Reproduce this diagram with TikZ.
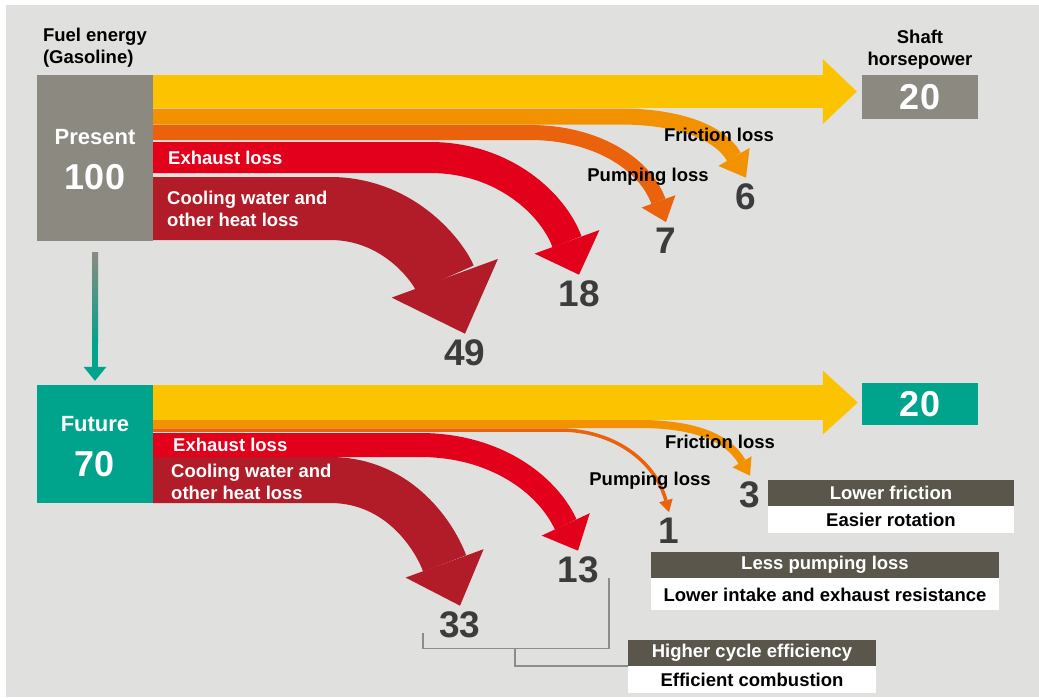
\documentclass[tikz,border=0pt]{standalone}
\usepackage{fontspec}
\setmainfont{Liberation Sans}
\usetikzlibrary{arrows.meta, positioning}

\definecolor{bggray}{RGB}{224,224,222}
\definecolor{boxgray}{RGB}{140,138,128}
\definecolor{tealc}{RGB}{0,163,139}
\definecolor{fuelyellow}{RGB}{252,196,0}
\definecolor{fricorange}{RGB}{243,146,0}
\definecolor{pumporange}{RGB}{234,98,12}
\definecolor{exhred}{RGB}{226,0,26}
\definecolor{coolred}{RGB}{178,28,40}
\definecolor{hdrdark}{RGB}{90,86,76}
\definecolor{numgray}{RGB}{60,60,60}
\definecolor{linegray}{RGB}{140,140,140}

\tikzset{
  band/.style={line width=#1, line cap=butt},
  bandhead/.style 2 args={arrows={-{Triangle[width=#1,length=#2,line width=0pt]}}},
  srcbox/.style={inner sep=0pt, minimum width=116pt},
  boxtxt/.style={text=white, font=\fontsize{22}{22}\selectfont\bfseries, inner sep=0pt},
  bignum/.style={text=white, font=\fontsize{36}{36}\selectfont\bfseries, inner sep=0pt},
  num/.style={text=numgray, font=\fontsize{37}{37}\selectfont\bfseries, inner sep=0pt},
  lbl/.style={font=\fontsize{18.5}{22}\selectfont\bfseries, inner sep=0pt, align=left},
  wlbl/.style={lbl, text=white},
  hdr/.style={fill=hdrdark, text=white, font=\fontsize{18.5}{22}\selectfont\bfseries, minimum height=26pt, inner sep=0pt},
  sub/.style={fill=white, text=black, font=\fontsize{18.5}{22}\selectfont\bfseries, minimum height=27pt, inner sep=0pt},
  bracket/.style={draw=linegray, line width=1.5pt},
}

\begin{document}
\begin{tikzpicture}[x=1pt, y=1pt]
  \useasboundingbox (0,0) rectangle (1039,-697);
  \fill[white] (0,0) rectangle (1039,-697);
  \fill[bggray] (6,-5) rectangle (1039,-697);

  % Source and output boxes
  \node[srcbox, fill=boxgray, minimum height=166pt] (present) at (95,-158) {};
  \node[boxtxt] at ([yshift=21pt]present.center) {Present};
  \node[bignum] at ([yshift=-19pt]present.center) {100};
  \node[lbl, anchor=south west] (fuel) at ([xshift=6pt,yshift=7pt]present.north west) {Fuel energy\\(Gasoline)};

  \node[srcbox, fill=tealc, minimum height=118pt] (future) at (95,-444) {};
  \node[boxtxt] at ([yshift=20pt]future.center) {Future};
  \node[bignum] at ([yshift=-20pt]future.center) {70};

  \node[srcbox, bignum, fill=boxgray, minimum height=44pt] (shaft20) at (920,-97) {20};
  \node[lbl, align=center, above=5pt of shaft20] (shaft) {Shaft\\horsepower};
  \node[srcbox, bignum, fill=tealc, minimum height=42pt] (future20) at (920,-404) {20};

  % Loss numbers
  \node[num] (n49) at (465,-353) {49};
  \node[num] (n18) at (579,-294) {18};
  \node[num] (n7)  at (666,-241) {7};
  \node[num] (n6)  at (746,-197) {6};
  \node[num] (n33) at (460,-625) {33};
  \node[num] (n13) at (578,-570) {13};
  \node[num] (n1)  at (669,-531) {1};
  \node[num] (n3)  at (750,-495) {3};

  % Band starts
  \coordinate (p-out)  at (153,-91.5);
  \coordinate (p-fric) at (153,-116.5);
  \coordinate (p-pump) at (153,-132.5);
  \coordinate (p-exh)  at (153,-157.5);
  \coordinate (p-cool) at (153,-208.5);
  \coordinate (f-out)  at (153,-402.5);
  \coordinate (f-fric) at (153,-424);
  \coordinate (f-pump) at (153,-430);
  \coordinate (f-exh)  at (153,-445);
  \coordinate (f-cool) at (153,-480);

  % Present flows
  \draw[band=63pt, coolred, bandhead={113pt}{59pt}] (p-cool) -- ++(177,0) to[out=0, in=110] ([yshift=6pt]n49.north);
  \draw[band=31pt, exhred, bandhead={69pt}{35pt}] (p-exh) -- ++(277,0) to[out=0, in=110] ([yshift=6pt]n18.north);
  \draw[band=15pt, pumporange, bandhead={36pt}{22pt}] (p-pump) -- ++(377,0) to[out=0, in=110] ([yshift=6pt]n7.north);
  \draw[band=16pt, fricorange, bandhead={36pt}{24pt}] (p-fric) -- ++(467,0) to[out=0, in=120] ([yshift=6pt]n6.north);
  \draw[band=33pt, fuelyellow, bandhead={65pt}{34pt}, shorten >=5pt] (p-out) -- (p-out -| shaft20.west);

  % Future flows
  \draw[band=46pt, coolred, bandhead={83pt}{45pt}] (f-cool) -- ++(177,0) to[out=0, in=110] ([yshift=6pt]n33.north);
  \draw[band=24pt, exhred, bandhead={53pt}{29pt}] (f-exh) -- ++(267,0) to[out=0, in=115] ([yshift=6pt]n13.north);
  \draw[band=3.5pt, pumporange, bandhead={14pt}{12pt}] (f-pump) -- ++(407,0) to[out=0, in=105] ([yshift=6pt]n1.north);
  \draw[band=8pt, fricorange, bandhead={22pt}{16pt}] (f-fric) -- ++(487,0) to[out=0, in=120] ([yshift=6pt]n3.north);
  \draw[band=35pt, fuelyellow, bandhead={64pt}{35pt}, shorten >=4pt] (f-out) -- (f-out -| future20.west);

  % Present to future
  \draw[tealc, line width=6pt, shorten <=11pt, shorten >=4pt, -{Triangle[width=23pt,length=14pt,line width=0pt]}] (present.south) -- (future.north);
  \shade[top color=boxgray, bottom color=tealc] ([xshift=-3pt,yshift=-11pt]present.south) rectangle ([xshift=3pt,yshift=42pt]future.north);

  % Band labels
  \node[wlbl, anchor=west] at (168,-158) {Exhaust loss};
  \node[wlbl, anchor=west] at (167,-208.5) {Cooling water and\\other heat loss};
  \node[lbl] at (719,-135) {Friction loss};
  \node[lbl] at (648,-177) {Pumping loss};
  \node[wlbl, anchor=west] at (173,-445) {Exhaust loss};
  \node[wlbl, anchor=west] at (171,-481.5) {Cooling water and\\other heat loss};
  \node[lbl] at (720,-442) {Friction loss};
  \node[lbl] at (650,-481) {Pumping loss};

  % Improvement boxes
  \node[hdr, minimum width=246pt] (lowfric) at (891,-492.5) {Lower friction};
  \node[sub, minimum width=246pt, below=0pt of lowfric] (easyrot) {Easier rotation};
  \node[hdr, minimum width=348pt] (lesspump) at (825,-565) {Less pumping loss};
  \node[sub, minimum width=348pt, minimum height=32pt, below=0pt of lesspump] (intake) {Lower intake and exhaust resistance};
  \node[hdr, minimum width=248pt] (cycle) at (752,-653) {Higher cycle efficiency};
  \node[sub, minimum width=248pt, below=0pt of cycle] (combust) {Efficient combustion};

  % Brackets
  \coordinate (br-mid) at (515,-648);
  \draw[bracket] ([xshift=-16pt,yshift=5pt]n33.south west) -- ++(0,-15) -| ([xshift=10pt,yshift=5pt]n13.south east);
  \draw[bracket] (br-mid) |- (cycle.south west);

\end{tikzpicture}
\end{document}
